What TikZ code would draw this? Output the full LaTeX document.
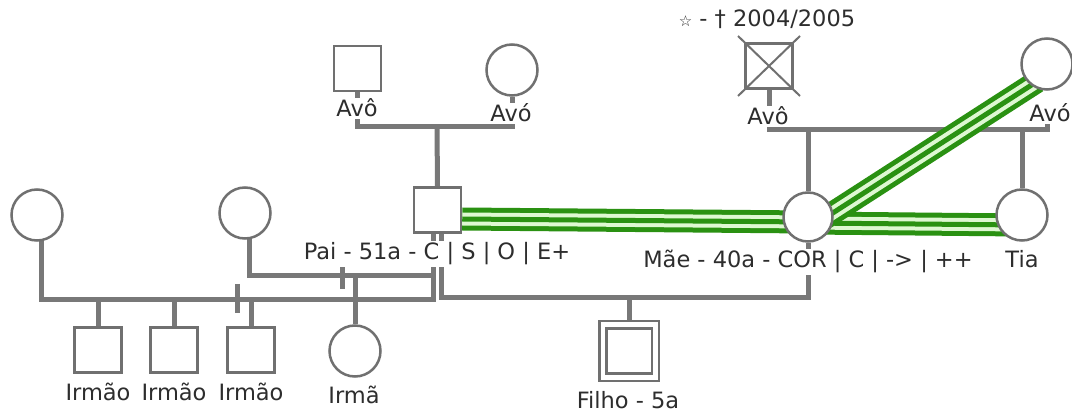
\documentclass[tikz,border=0pt]{standalone}
\usepackage{fontspec}
\setmainfont{DejaVu Sans}
\usetikzlibrary{calc}
\definecolor{gline}{RGB}{120,120,120}
\definecolor{gshape}{RGB}{112,112,112}
\definecolor{gdark}{RGB}{42,145,18}
\definecolor{glight}{RGB}{222,248,210}
\definecolor{txt}{RGB}{45,45,45}
\pgfdeclarelayer{bg}
\pgfdeclarelayer{glines}
\pgfdeclarelayer{green}
\pgfsetlayers{bg,glines,green,main}
\begin{document}
\begin{tikzpicture}[x=1pt,y=-1pt,
  conn/.style={draw=gline,line width=5pt,line join=miter},
  tick/.style={draw=gline,line width=5pt},
  male/.style={rectangle,draw=gshape,line width=2.5pt,fill=white,minimum width=47pt,minimum height=45pt,inner sep=0pt},
  female/.style={circle,draw=gshape,line width=2.5pt,fill=white,minimum size=51pt,inner sep=0pt},
  lbl/.style={fill=white,text=txt,inner sep=1.5pt,anchor=base,font=\fontsize{22.5}{26}\selectfont},
  triple/.style={draw=gdark,line width=23pt,postaction={draw=glight,line width=13pt},postaction={draw=gdark,line width=5pt}}
]
\begin{pgfonlayer}{bg}
\fill[white] (0,0) rectangle (1072,414);
\end{pgfonlayer}
\useasboundingbox (0,0) rectangle (1072,414);

% persons
\node[male] (avoL) at (357.5,68.5) {};
\node[female] (avoaL) at (512,70) {};
\node[male] (pai) at (437.5,210) {};
\node[male] (avoR) at (769,66) {};
\node[female] (avoaR) at (1047,64) {};
\node[female, minimum size=49pt] (mae) at (808,217) {};
\node[female] (tia) at (1022,215) {};
\node[female] (w1) at (37,215) {};
\node[female] (w2) at (245,213) {};
\node[male] (irmao1) at (98,350) {};
\node[male] (irmao2) at (174,350) {};
\node[male] (irmao3) at (251,350) {};
\node[female] (irma) at (355,351) {};
\node[male, minimum width=59.5pt, minimum height=59.5pt] (filho) at (629,351) {};
\node[male, minimum width=45.5pt, minimum height=44.5pt] (filhoin) at (filho.center) {};
\draw[draw=gshape,line width=2pt] ($(avoR.center)+(-31,-30)$) -- ($(avoR.center)+(31,30)$)
  ($(avoR.center)+(31,-30)$) -- ($(avoR.center)+(-31,30)$);

% labels
\node[lbl] (lAvoL) at (357,117) {Avô};
\node[lbl] (lAvoaL) at (511,122) {Avó};
\node[lbl] (lAvoR) at (768,125) {Avô};
\node[lbl] (lAvoaR) at (1050,122) {Avó};
\node[lbl] (lStar) at (767,27) {{\fontsize{15}{15}\selectfont ☆} - † 2004/2005};
\node[lbl] (lPai) at (437,260) {Pai - 51a - C | S | O | E+};
\node[lbl] (lMae) at (808,268) {Mãe - 40a - COR | C | -> | ++};
\node[lbl] (lTia) at (1022,268) {Tia};
\node[lbl] (lI1) at (98,400) {Irmão};
\node[lbl] (lI2) at (174,400) {Irmão};
\node[lbl] (lI3) at (251,400) {Irmão};
\node[lbl] (lIrma) at (354,403) {Irmã};
\node[lbl] (lFilho) at (628,408) {Filho - 5a};

% junction coordinates
\coordinate (gpL) at (437,127);
\coordinate (gpR) at (808,130);
\coordinate (pL) at ($(pai.south)+(-4.5,0)$);
\coordinate (pR) at ($(pai.south)+(4,0)$);
\coordinate (mainL) at (0,300);
\coordinate (w2L) at (0,276);
\coordinate (kidL) at (0,298);
\coordinate (t1a) at (342,263);
\coordinate (t1b) at (342,289);
\coordinate (t2a) at (237,284);
\coordinate (t2b) at (237,313);

\begin{pgfonlayer}{glines}
\draw[conn] (avoL.south) |- (avoaL.south |- gpL) -- (avoaL.south);
\draw[conn] (gpL) -- (pai.north);
\draw[conn] (avoR.south) |- (avoaR.south |- gpR) -- (avoaR.south |- lAvoaR.south);
\draw[conn] (gpR) -- (mae.north);
\draw[conn] (tia.north |- gpR) -- (tia.north);
\draw[conn] ($(w1.center)+(4,0)$) |- (pL |- mainL) -- (pL);
\draw[conn] ($(w2.center)+(4,0)$) |- (pL |- w2L);
\draw[conn] (pR) |- (mae.south |- kidL) -- (mae.south);
\draw[conn] (irmao1.north) -- (irmao1.north |- mainL);
\draw[conn] (irmao2.north) -- (irmao2.north |- mainL);
\draw[conn] (irmao3.north) -- (irmao3.north |- mainL);
\draw[conn] (irma.north) -- (irma.north |- w2L);
\draw[conn] (filho.north) -- (filho.north |- kidL);
\draw[tick] (t1a) -- (t1b);
\draw[tick] (t2a) -- (t2b);
\end{pgfonlayer}

\begin{pgfonlayer}{green}
\path[triple] ($(pai.east)+(0,9)$) -- ($(mae.center)+(0,5)$);
\path[triple] ($(mae.center)+(0,6)$) -- ($(tia.center)+(0,10)$);
\path[triple] ($(mae.center)+(17,1)$) -- ($(avoaR.center)+(-10,17.5)$);
\end{pgfonlayer}
\end{tikzpicture}
\end{document}
